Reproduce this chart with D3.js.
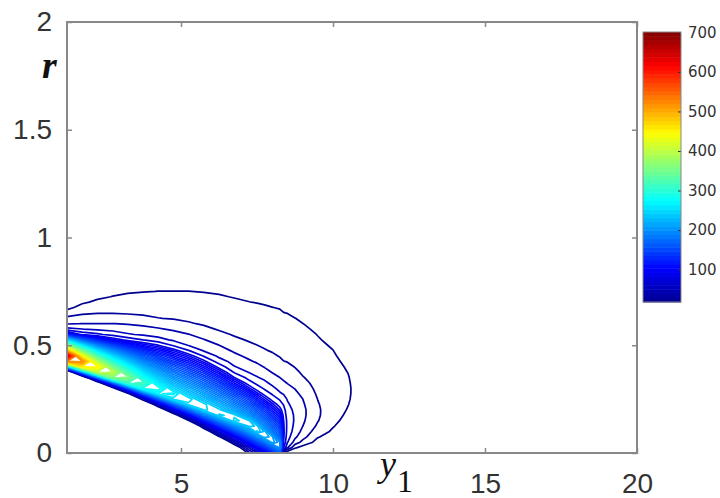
<!DOCTYPE html>
<html>
<head>
<meta charset="utf-8">
<script src="https://cdn.jsdelivr.net/npm/d3@7"></script>
<style>
  body { margin: 0; background: #fff; }
  svg { display: block; }
  .ax .tick text { font-family: "Liberation Sans", Arial, sans-serif; font-size: 28px; fill: #333; }
  .cb .tick text { font-family: "DejaVu Sans", sans-serif; font-size: 15px; fill: #333; }
</style>
</head>
<body>
<script>
// grid of the density table: columns along y1, rows along r
var y1Grid = [1.25, 1.75, 2.25, 2.75, 3.25, 3.75, 4.25, 4.75, 5.25, 5.75, 6.25, 6.75,
              7.25, 7.5, 7.75, 8, 8.25, 8.375, 8.5, 8.75, 9, 9.5, 10, 10.5, 11];
var rGrid = [0, 0.025, 0.05, 0.075, 0.1, 0.125, 0.15, 0.175, 0.2, 0.225, 0.25, 0.275, 0.3,
             0.325, 0.35, 0.375, 0.4, 0.425, 0.45, 0.475, 0.5, 0.525, 0.55, 0.575, 0.6,
             0.625, 0.65, 0.675, 0.7, 0.725, 0.75, 0.775, 0.8];

// density[i][j] = value at y1Grid[i], rGrid[j] (read off the picture;
// cells just under the lower edge are below the lowest level)
var density = [
  [0,0,0,0,0,0,0,0,0,0,0,0,0,0,-150,-80,205,520,640,486,362,238,114,60,41,31.4,20,10.2,5.5,2.9,1.6,0.8,0.4],
  [0,0,0,0,0,0,0,0,0,0,0,0,0,-150,-57,180,449,524,434,344,253,163,80.8,56.2,42.2,33.9,25.9,18.5,12.1,8.4,5.8,4,2.8],
  [0,0,0,0,0,0,0,0,0,0,0,0,-150,-31,165,396,453,386,319,252.5,186,119,72.8,52.9,42.2,34.6,27.3,21.8,16.2,11.9,9,6.8,5.2],
  [0,0,0,0,0,0,0,0,0,0,0,-150,-13,153,355,400,349,298,247,196,145,94,65.3,50.8,42.2,34.4,27.3,23,18.7,14.3,11.5,9.3,7.5],
  [0,0,0,0,0,0,0,0,0,0,-144,0,144,313,359,318,278,237.6,197,157,116,79.3,57.6,48.8,41,33.1,26.7,23.1,19.5,15.9,12.8,10.7,9],
  [0,0,0,0,0,0,0,0,-150,-85,33,152,284,317,285,254,222.5,191,159.5,128,96.5,70.2,53.9,46.5,38.8,30.9,26,22.8,19.7,16.5,13.6,11.6,9.9],
  [0,0,0,0,0,0,0,-142,-43,55,154,265,287,261.5,236,211,185,160,135,109,84.2,61.2,50.8,43.5,35.9,28.3,25.3,22.5,19.6,16.8,14.1,12.2,10.6],
  [0,0,0,0,0,0,-101,-14,73,160,255,268.6,246.3,224,201.7,179.4,157.1,134.8,112.6,90.3,67.9,53.8,46.9,40,32.9,27.2,24.6,22,19.4,16.7,14.1,12.4,10.8],
  [0,0,0,0,-147,-69,9.4,87.5,166,248,258.7,237.9,217.1,196.3,175.5,154.7,133.9,113.1,92.3,70.9,55.2,48.9,42.5,35.8,29.1,26,23.6,21.2,18.8,16.4,14.1,12.4,11],
  [0,0,0,-92,-24,43,111,178,246,250,230,210,189.5,169,149,128.6,108.3,88,68.7,54.8,48.8,42.7,36.7,30.7,26.8,24.5,22.3,20.1,17.9,15.7,13.6,12.2,11],
  [0,-109,-50,9.5,69,128,187,246,241.7,221.2,200.8,180.4,160,139.5,119.1,98.7,78.8,62.7,53.1,47.6,42.1,36.4,30.9,27,25,22.9,20.8,18.8,16.7,14.7,13.1,11.8,10.7],
  [-70,-17,36,89,142,195,248,243,211.3,190.1,168.9,147.7,126.5,105.3,84.2,68.6,56.9,50.9,45.3,40.1,35.2,30.3,27,25.1,23.1,21.2,19.3,17.3,15.4,13.6,12.4,11.3,10.3],
  [24,60,109,158,207,241.7,238.6,199.1,177.8,156.4,135.1,113.8,92.5,75.6,64,54.9,49.2,43.6,38.8,34.3,29.8,26.9,25.1,23.2,21.4,19.5,17.7,15.8,14.1,12.8,11.7,10.6,9.7],
  [49,98,146,195,238.4,236,196.7,176.2,155.7,135.1,114.6,94.1,77.8,66.3,57.1,51,45.4,40.4,36.2,32.1,28.1,26.2,24.4,22.6,20.7,18.9,17.1,15.3,13.7,12.5,11.4,10.4,9.5],
  [83,130,177,224,222,191.2,172.1,153,133.8,114.6,95.5,79,67.7,59.3,52.5,46.7,41.2,37.1,32.9,28.8,26.6,24.9,23.2,21.5,19.8,18.1,16.4,14.7,13.3,12.3,11.3,10.4,9.6],
  [120,167,215,212,180.5,163,146,129,111.6,94.4,79.3,68.3,59.5,52.6,47,41.5,37.6,33.8,29.9,27.1,25.5,23.9,22.2,20.6,18.9,17.3,15.6,14.1,12.9,11.9,11,10.2,9.4],
  [160,200,198,168.6,153,137,121.6,106,90.3,78,68,58,52,47,42.1,38.1,34.2,30.3,27.4,25.8,24.3,22.7,21.2,19.6,18,16.5,14.9,13.6,12.6,11.6,10.7,9.9,9.1],
  [0,70.3,82,86,87,86,84.3,80,76,69,62,55,49.5,44,39.5,35.5,31.5,28.3,25.5,23,21,19.3,18,16.8,15.8,14.9,14.1,13.2,12,10.5,9,7.5,6],
  [0,44,57,62,65,66,66,64,61,58,55,50,45.5,41.5,38,34.5,31,27.5,25,22.8,21,19.5,18.2,17,16,15,13.9,12.8,11.5,10,8.5,7,5.5],
  [0,16,36,45,50,52.5,54,54,53,51,48.5,45,41.5,38,34.5,31,27.5,25,23,21.3,19.8,18.5,17.3,16.2,15.2,14.1,12.8,11.5,10,8.5,7,5.5,4],
  [0,9,24,33,38.5,42.3,44.5,45.5,45.5,44,42.2,39,36,32.5,29,26,23.8,22,20.5,19.2,18,17,16,15,14.1,12.9,11.7,10.3,9,7.6,6.2,5,3.8],
  [0,4,9,15,20.5,25.5,28.7,30,30,29,27.7,26,24.3,22.8,21.4,20.1,19,18,17,16.1,15.3,14.5,13.8,13,12,11,10,8.8,7.6,6.4,5.2,4,3],
  [0,2,5,8.5,12,14.8,17,18.5,19.5,20,20,19.8,19.3,18.7,18,17.2,16.4,15.6,14.8,14.1,13.3,12.5,11.6,10.7,9.7,8.7,7.6,6.5,5.4,4.3,3.3,2.4,1.6],
  [0,1,2.5,4,6,8,10,11.8,13.2,14.2,14.8,15.1,15.1,14.8,14.4,13.8,13.1,12.3,11.5,10.6,9.7,8.8,7.9,7,6.1,5.2,4.4,3.6,2.9,2.2,1.6,1.1,0.7],
  [0,0.5,1.2,2,3,4,5,6,7,7.8,8.4,8.8,9,8.9,8.6,8.2,7.7,7.1,6.5,5.9,5.3,4.7,4.1,3.5,3,2.5,2,1.6,1.2,0.9,0.6,0.4,0.2]
];

// contour levels: coarse in the outer tail, fine in the core
var levels = [14, 28, 42, 56, 70, 84,
  91, 98, 105, 112, 119, 126, 133, 140, 147, 154, 161, 168, 175, 182, 189, 196, 203, 210,
  217, 224, 231, 238, 245, 252, 259, 266, 273, 280, 287, 294, 301, 308, 315, 322, 329, 336,
  343, 350, 357, 364, 371, 378, 385, 392, 399, 406, 413, 420, 427, 434, 441, 448, 455, 462,
  469, 476, 483, 490, 497, 504, 511, 518, 525, 532, 539, 546, 553, 560, 567, 574, 581, 588,
  595, 602, 609, 616, 623, 630, 637, 644, 651, 658, 665, 672, 679, 686, 693, 700];

var xTicks = [5, 10, 15, 20];
var yTicks = [0, 0.5, 1, 1.5, 2];
var barTicks = [100, 200, 300, 400, 500, 600, 700];
var colorRange = [18, 701];

var width = 720, height = 498;
var plotL = 67, plotR = 637, plotT = 22, plotB = 453;

var svg = d3.select("body").append("svg")
    .attr("width", width)
    .attr("height", height)
    .style("background", "#fff");

var x = d3.scaleLinear().domain([1.25, 20]).range([plotL, plotR]);
var y = d3.scaleLinear().domain([0, 2]).range([plotB, plotT]);

// jet colormap
var jet = d3.scaleLinear()
    .domain([0, 0.125, 0.375, 0.625, 0.875, 1])
    .range(["#00008f", "#0000ff", "#00ffff", "#ffff00", "#ff0000", "#800000"])
    .clamp(true);
var color = function (v) {
    return jet((v - colorRange[0]) / (colorRange[1] - colorRange[0]));
};

// flatten the table for d3.contours (row-major in r)
var nx = y1Grid.length, ny = rGrid.length;
var values = new Array(nx * ny);
for (var i = 0; i < nx; i++) {
    for (var j = 0; j < ny; j++) {
        values[i + j * nx] = density[i][j];
    }
}

var colAt = d3.scaleLinear().domain(d3.range(nx)).range(y1Grid);
var rowAt = d3.scaleLinear().domain(d3.range(ny)).range(rGrid);

// grid value k sits at contour coordinate k + 0.5
var path = d3.geoPath(d3.geoTransform({
    point: function (gx, gy) {
        this.stream.point(x(colAt(gx - 0.5)), y(rowAt(gy - 0.5)));
    }
}));

var contours = d3.contours()
    .size([nx, ny])
    .thresholds(levels)(values);

svg.append("clipPath")
    .attr("id", "plotclip")
    .append("rect")
    .attr("x", plotL)
    .attr("y", plotT)
    .attr("width", plotR - plotL)
    .attr("height", plotB - plotT);

svg.append("g")
    .attr("clip-path", "url(#plotclip)")
    .selectAll("path")
    .data(contours)
    .enter()
    .append("path")
    .attr("d", path)
    .attr("fill", "none")
    .attr("stroke", function (d) { return color(d.value); })
    .attr("stroke-width", 1.7)
    .attr("stroke-linejoin", "round");

// axes, ticks pointing inward
function styleAxis(g) {
    g.select(".domain").remove();
    g.selectAll(".tick line").attr("stroke", "#888").attr("stroke-width", 1.5);
}

svg.append("g").attr("class", "ax")
    .attr("transform", "translate(0," + plotB + ")")
    .call(d3.axisBottom(x).tickValues(xTicks).tickSize(-5).tickPadding(20))
    .call(styleAxis);

svg.append("g").attr("class", "ax")
    .attr("transform", "translate(" + plotL + ",0)")
    .call(d3.axisLeft(y).tickValues(yTicks).tickSize(-5).tickPadding(15)
        .tickFormat(d3.format("~g")))
    .call(styleAxis);

svg.append("g")
    .attr("transform", "translate(0," + plotT + ")")
    .call(d3.axisTop(x).tickValues(xTicks).tickSize(-5).tickFormat(""))
    .call(styleAxis);

svg.append("g")
    .attr("transform", "translate(" + plotR + ",0)")
    .call(d3.axisRight(y).tickValues(yTicks).tickSize(-5).tickFormat(""))
    .call(styleAxis);

svg.append("rect")
    .attr("x", plotL)
    .attr("y", plotT)
    .attr("width", plotR - plotL)
    .attr("height", plotB - plotT)
    .attr("fill", "none")
    .attr("stroke", "#888")
    .attr("stroke-width", 2);

// axis titles
svg.append("text")
    .attr("x", 42)
    .attr("y", 78)
    .style("font-family", "'Liberation Serif', 'Times New Roman', serif")
    .style("font-style", "italic")
    .style("font-weight", "bold")
    .style("font-size", "38px")
    .attr("fill", "#111")
    .text("r");

svg.append("text")
    .attr("x", 380)
    .attr("y", 476)
    .style("font-family", "'Liberation Serif', 'Times New Roman', serif")
    .style("font-style", "italic")
    .style("font-size", "36px")
    .attr("fill", "#111")
    .text("y");

svg.append("text")
    .attr("x", 397)
    .attr("y", 492)
    .style("font-family", "'Liberation Serif', 'Times New Roman', serif")
    .style("font-size", "32px")
    .attr("fill", "#111")
    .text("1");

// colorbar
var cbX = 643, cbW = 38, cbTop = 32, cbBottom = 302;
var c = d3.scaleLinear().domain(colorRange).range([cbBottom, cbTop]);
var nBands = 64;
var bandStep = (colorRange[1] - colorRange[0]) / nBands;
var bands = d3.range(nBands).map(function (k) { return colorRange[0] + k * bandStep; });

svg.append("g")
    .selectAll("rect")
    .data(bands)
    .enter()
    .append("rect")
    .attr("x", cbX)
    .attr("width", cbW)
    .attr("y", function (d) { return c(d + bandStep); })
    .attr("height", function (d) { return c(d) - c(d + bandStep) + 0.5; })
    .attr("fill", function (d) { return color(d + bandStep / 2); });

svg.append("g").attr("class", "cb")
    .attr("transform", "translate(" + (cbX + cbW) + ",0)")
    .call(d3.axisRight(c).tickValues(barTicks).tickSize(-3).tickPadding(7))
    .call(function (g) {
        g.select(".domain").remove();
        g.selectAll(".tick line").attr("stroke", "#333").attr("stroke-width", 1);
    });

svg.append("rect")
    .attr("x", cbX)
    .attr("y", cbTop)
    .attr("width", cbW)
    .attr("height", cbBottom - cbTop)
    .attr("fill", "none")
    .attr("stroke", "#888")
    .attr("stroke-width", 1);
</script>
</body>
</html>
